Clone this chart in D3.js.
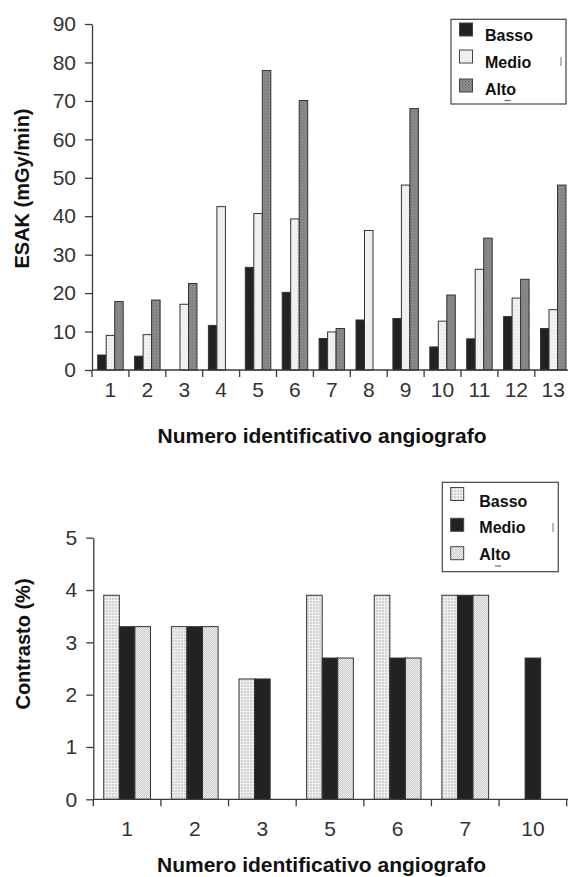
<!DOCTYPE html>
<html><head><meta charset="utf-8">
<script src="https://cdn.jsdelivr.net/npm/d3@7"></script>
<style>html,body{margin:0;padding:0;background:#fff;}svg{display:block;}</style>
</head><body>
<svg id="c" width="568" height="877"></svg>
<script>
// ---- data ----
const series = ["Basso", "Medio", "Alto"];
const cats1 = ["1","2","3","4","5","6","7","8","9","10","11","12","13"];
const basso1 = [3.9, 3.6, 0, 11.6, 26.7, 20.2, 8.2, 13.0, 13.4, 6.0, 8.1, 13.9, 10.8];
const medio1 = [9.0, 9.2, 17.1, 42.5, 40.7, 39.3, 9.9, 36.3, 48.1, 12.7, 26.2, 18.7, 15.7];
const alto1  = [17.8, 18.2, 22.5, 0, 77.9, 70.1, 10.8, 0, 68.0, 19.5, 34.3, 23.6, 48.1];
const yTicks1 = [0,10,20,30,40,50,60,70,80,90];

const cats2 = ["1","2","3","5","6","7","10"];
const basso2 = [3.9, 3.3, 2.3, 3.9, 3.9, 3.9, 0];
const medio2 = [3.3, 3.3, 2.3, 2.7, 2.7, 3.9, 2.7];
const alto2  = [3.3, 3.3, 0, 2.7, 2.7, 3.9, 0];
const yTicks2 = [0,1,2,3,4,5];

const svg = d3.select("#c");
const FONT = "'Liberation Sans', Arial, Helvetica, sans-serif";
const AX = "#3a3a3a";

// ---- patterns ----
const defs = svg.append("defs");
function pat(id, base, dot, size, kind) {
  const p = defs.append("pattern").attr("id", id).attr("patternUnits", "userSpaceOnUse")
    .attr("width", size).attr("height", size);
  p.append("rect").attr("width", size).attr("height", size).attr("fill", base);
  if (kind === "dots") {
    p.append("rect").attr("x", 0).attr("y", 0).attr("width", 1).attr("height", 1).attr("fill", dot);
    p.append("rect").attr("x", size/2).attr("y", size/2).attr("width", 1).attr("height", 1).attr("fill", dot);
  } else {
    p.append("rect").attr("x", 0).attr("y", 0).attr("width", size).attr("height", 1).attr("fill", dot);
    p.append("rect").attr("x", 0).attr("y", 0).attr("width", 1).attr("height", size).attr("fill", dot);
  }
}
pat("pMed1", "#f6f6f6", "#d8d8d8", 3, "dots");
pat("pAlt1", "#8e8e8e", "#6a6a6a", 3, "dots");
pat("pLt2a", "#d2d2d2", "#f0f0f0", 3, "grid");
pat("pLt2b", "#cdcdcd", "#ececec", 2, "dots");

function chart(o) {
  const g = svg.append("g");
  const x0 = d3.scaleBand().domain(o.cats).range([o.x0, o.x1]).padding(0);
  const x1 = d3.scaleBand().domain(series).range([0, x0.bandwidth()]).paddingInner(0).paddingOuter(0.67);
  const y = d3.scaleLinear().domain(o.ydom).range([o.yb, o.yt]);

  // bars
  const rows = [];
  o.cats.forEach((c, i) => series.forEach((s, j) => {
    const v = o.vals[j][i];
    if (v > 0) rows.push({c, s, v});
  }));
  g.selectAll("rect.bar").data(rows).join("rect").attr("class", "bar")
    .attr("x", d => x0(d.c) + x1(d.s))
    .attr("y", d => y(d.v))
    .attr("width", x1.bandwidth())
    .attr("height", d => y(0) - y(d.v))
    .attr("fill", d => o.fills[series.indexOf(d.s)])
    .attr("stroke", "#333").attr("stroke-width", 1);

  // y axis
  const ya = g.append("g").attr("transform", `translate(${o.x0},0)`)
    .call(d3.axisLeft(y).tickValues(o.yticks).tickFormat(d3.format("d"))
      .tickSize(7).tickPadding(9).tickSizeOuter(0));
  ya.select(".domain").attr("stroke", AX).attr("stroke-width", 1.3);
  ya.selectAll(".tick line").attr("stroke", AX).attr("stroke-width", 1.3);
  ya.selectAll(".tick text").attr("fill", "#333").style("font", `21px ${FONT}`);

  // x axis line + boundary ticks
  g.append("line").attr("x1", o.x0).attr("x2", o.x1 + 2).attr("y1", y(0)).attr("y2", y(0))
    .attr("stroke", AX).attr("stroke-width", 1.3);
  const bounds = o.cats.map(c => x0(c)).concat([o.x1]);
  g.selectAll("line.bt").data(bounds).join("line").attr("class", "bt")
    .attr("x1", d => d).attr("x2", d => d).attr("y1", y(0)).attr("y2", y(0) + 7)
    .attr("stroke", AX).attr("stroke-width", 1.3);
  g.selectAll("text.xl").data(o.cats).join("text").attr("class", "xl")
    .attr("x", d => x0(d) + x0.bandwidth() / 2).attr("y", o.xlBase)
    .attr("text-anchor", "middle").attr("fill", "#333").style("font", `21px ${FONT}`)
    .text(d => d);

  // titles
  g.append("text").attr("x", o.xtX).attr("y", o.xtY).attr("text-anchor", "middle")
    .attr("fill", "#111").style("font", `bold 21px ${FONT}`).text("Numero identificativo angiografo");
  g.append("text").attr("transform", `translate(${o.ytX},${o.ytY}) rotate(-90)`)
    .attr("text-anchor", "middle").attr("fill", "#111")
    .style("font", `bold 20px ${FONT}`).text(o.ytitle);

  // legend
  const L = o.leg;
  g.append("rect").attr("x", L.x).attr("y", L.y).attr("width", L.w).attr("height", L.h)
    .attr("fill", "#fff").attr("stroke", "#444").attr("stroke-width", 1.2);
  series.forEach((s, j) => {
    g.append("rect").attr("x", L.sx).attr("y", L.sy[j]).attr("width", 13).attr("height", 13)
      .attr("fill", o.fills[j]).attr("stroke", "#444").attr("stroke-width", 1);
    g.append("text").attr("x", L.tx).attr("y", L.ty[j]).attr("fill", "#111")
      .style("font", `bold 16px ${FONT}`).text(s);
  });
  // small scan marks in legend
  g.append("line").attr("x1", L.mx).attr("x2", L.mx).attr("y1", L.my).attr("y2", L.my + 9)
    .attr("stroke", "#777").attr("stroke-width", 1);
  g.append("line").attr("x1", L.dx - 3).attr("x2", L.dx + 3).attr("y1", L.dy).attr("y2", L.dy)
    .attr("stroke", "#666").attr("stroke-width", 1.2);
}

chart({
  cats: cats1, vals: [basso1, medio1, alto1], ydom: [0, 90], yticks: yTicks1,
  x0: 92, x1: 571.7, yb: 370, yt: 24, xlBase: 396.5,
  xtX: 322, xtY: 443, ytX: 28.5, ytY: 188.5, ytitle: "ESAK (mGy/min)",
  fills: ["#222", "url(#pMed1)", "url(#pAlt1)"],
  leg: {x: 451, y: 19.3, w: 115, h: 84.7, sx: 459.5, sy: [23, 50, 79], tx: 485, ty: [40.5, 68.3, 95],
        mx: 561, my: 57, dx: 507.5, dy: 100.5}
});

chart({
  cats: cats2, vals: [basso2, medio2, alto2], ydom: [0, 5], yticks: yTicks2,
  x0: 93.3, x1: 566.7, yb: 799.3, yt: 537.7, xlBase: 836,
  xtX: 321.5, xtY: 871.5, ytX: 30, ytY: 644, ytitle: "Contrasto (%)",
  fills: ["url(#pLt2a)", "#222", "url(#pLt2b)"],
  leg: {x: 442.3, y: 482.3, w: 116, h: 89.4, sx: 450.7, sy: [487.5, 518.3, 546.7], tx: 479.3, ty: [506.7, 533.3, 560],
        mx: 553, my: 523, dx: 498, dy: 566}
});
</script>
</body></html>
